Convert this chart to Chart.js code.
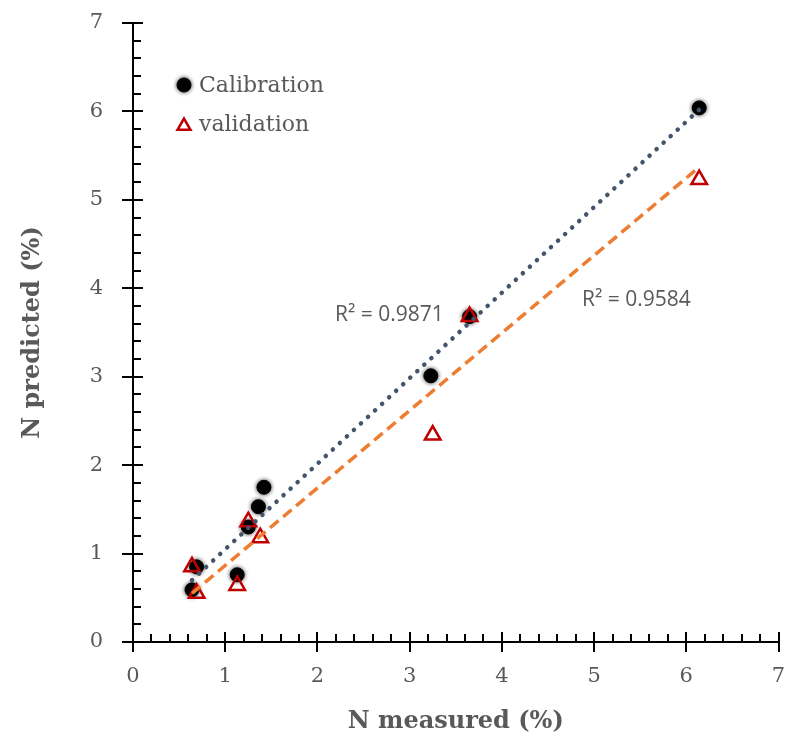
<!DOCTYPE html>
<html>
<head>
<meta charset="utf-8">
<script src="https://cdn.jsdelivr.net/npm/chart.js@4.4.0/dist/chart.umd.min.js"></script>
<style>
  html, body { margin: 0; padding: 0; background: #fff; }
</style>
</head>
<body>
<canvas id="nChart" width="790" height="738"></canvas>
<script>
// N measured vs N predicted (%)
const calibMeasured = [0.64, 0.69, 1.13, 1.25, 1.36, 1.42, 3.23, 3.65, 6.14];
const calibPredicted = [0.59, 0.85, 0.76, 1.30, 1.53, 1.75, 3.01, 3.68, 6.04];

const validMeasured = [0.64, 0.69, 1.13, 1.25, 1.38, 3.25, 3.65, 6.14];
const validPredicted = [0.85, 0.55, 0.64, 1.36, 1.18, 2.34, 3.68, 5.23];

// trend line ends
const calibTrendX = [0.64, 6.14];
const calibTrendY = [0.70, 6.02];
const validTrendX = [0.64, 6.14];
const validTrendY = [0.55, 5.37];

const axisTickValues = [0, 1, 2, 3, 4, 5, 6, 7];
const seriesNames = ["Calibration", "validation"];
const r2Labels = ["R\u00B2 = 0.9871", "R\u00B2 = 0.9584"];
const r2Anchors = [[2.19, 3.70], [4.87, 3.87]];

const GREY = "#595959";
const RED = "#C00000";
const SERIF = "'DejaVu Serif', serif";

function toPoints(xs, ys) {
  return xs.map((x, i) => ({ x: x, y: ys[i] }));
}

// axis lines, crossing major ticks, inward minor ticks and tick labels
const axisTicks = {
  id: "axisTicks",
  afterDraw(chart) {
    const { ctx, chartArea: a, scales } = chart;
    const x = scales.x;
    const y = scales.y;
    ctx.save();
    ctx.strokeStyle = "#000";
    ctx.lineWidth = 2;
    ctx.beginPath();
    ctx.moveTo(a.left, a.top);
    ctx.lineTo(a.left, a.bottom);
    ctx.lineTo(a.right, a.bottom);
    for (let i = 0; i <= 35; i++) {
      const v = i / 5;
      const major = i % 5 === 0;
      const px = Math.round(x.getPixelForValue(v));
      ctx.moveTo(px, a.bottom + (major ? 10 : 0));
      ctx.lineTo(px, a.bottom - (major ? 10 : 8));
      const py = Math.round(y.getPixelForValue(v));
      ctx.moveTo(a.left - (major ? 11 : 0), py);
      ctx.lineTo(a.left + (major ? 10 : 8), py);
    }
    ctx.stroke();

    ctx.fillStyle = GREY;
    ctx.font = "21px " + SERIF;
    ctx.textAlign = "center";
    ctx.textBaseline = "top";
    x.ticks.forEach((t) => ctx.fillText(String(t.value), x.getPixelForValue(t.value), a.bottom + 24));
    ctx.textAlign = "right";
    ctx.textBaseline = "middle";
    y.ticks.forEach((t) => ctx.fillText(String(t.value), a.left - 30, y.getPixelForValue(t.value)));
    ctx.restore();
  },
};

const markerGlow = {
  id: "markerGlow",
  beforeDatasetDraw(chart, args) {
    if (args.index !== 3) return;
    chart.ctx.save();
    chart.ctx.shadowColor = "rgba(0,0,0,0.7)";
    chart.ctx.shadowBlur = 4;
  },
  afterDatasetDraw(chart, args) {
    if (args.index !== 3) return;
    chart.ctx.restore();
  },
};

const notes = {
  id: "notes",
  afterDraw(chart) {
    const { ctx, chartArea: a, scales } = chart;
    ctx.save();
    // legend
    const mx = a.left + 51;
    ctx.fillStyle = "#000";
    ctx.shadowColor = "rgba(0,0,0,0.7)";
    ctx.shadowBlur = 4;
    Chart.helpers.drawPoint(ctx, { pointStyle: "circle", radius: 7, rotation: 0, borderWidth: 1 }, mx, a.top + 62);
    ctx.shadowBlur = 0;
    ctx.strokeStyle = RED;
    ctx.fillStyle = "rgba(0,0,0,0)";
    ctx.lineWidth = 2.5;
    Chart.helpers.drawPoint(ctx, { pointStyle: "triangle", radius: 7.5, rotation: 0, borderWidth: 2.5 }, mx, a.top + 103);
    ctx.fillStyle = GREY;
    ctx.font = "22px " + SERIF;
    ctx.textBaseline = "alphabetic";
    ctx.fillText(seriesNames[0], mx + 15, a.top + 69);
    ctx.fillText(seriesNames[1], mx + 15, a.top + 108);
    // R2 labels
    ctx.font = "21px 'Open Sans', sans-serif";
    ctx.textBaseline = "middle";
    r2Labels.forEach((t, i) => {
      ctx.fillText(t, scales.x.getPixelForValue(r2Anchors[i][0]), scales.y.getPixelForValue(r2Anchors[i][1]));
    });
    ctx.restore();
  },
};

new Chart(document.getElementById("nChart"), {
  type: "scatter",
  data: {
    datasets: [
      {
        type: "line",
        label: "calib trend",
        data: toPoints(calibTrendX, calibTrendY),
        borderColor: "#44546A",
        borderWidth: 4.5,
        borderDash: [0.1, 9.5],
        borderCapStyle: "round",
        pointRadius: 0,
        fill: false,
      },
      {
        type: "line",
        label: "valid trend",
        data: toPoints(validTrendX, validTrendY),
        borderColor: "#ED7D31",
        borderWidth: 3.5,
        borderDash: [11, 6],
        pointRadius: 0,
        fill: false,
      },
      {
        label: seriesNames[1],
        data: toPoints(validMeasured, validPredicted),
        pointStyle: "triangle",
        pointRadius: 9,
        borderColor: RED,
        borderWidth: 2.5,
        backgroundColor: "rgba(0,0,0,0)",
      },
      {
        label: seriesNames[0],
        data: toPoints(calibMeasured, calibPredicted),
        pointStyle: "circle",
        pointRadius: 7,
        borderColor: "#000",
        borderWidth: 1,
        backgroundColor: "#000",
      },
    ],
  },
  options: {
    responsive: false,
    animation: false,
    devicePixelRatio: 1,
    layout: { padding: { left: 0, top: 23, right: 7, bottom: 0 } },
    plugins: {
      legend: { display: false },
      tooltip: { enabled: false },
    },
    scales: {
      x: {
        type: "linear",
        min: 0,
        max: 7,
        afterBuildTicks: (s) => { s.ticks = axisTickValues.map((v) => ({ value: v })); },
        afterFit: (s) => { s.height = 96; s.paddingLeft = 0; s.paddingRight = 0; },
        grid: { display: false, drawTicks: false },
        border: { display: false },
        ticks: { display: false },
        title: {
          display: true,
          text: "N measured (%)",
          color: GREY,
          font: { family: SERIF, size: 24, weight: "bold" },
          padding: { top: 0, bottom: 2 },
        },
      },
      y: {
        type: "linear",
        min: 0,
        max: 7,
        afterBuildTicks: (s) => { s.ticks = axisTickValues.map((v) => ({ value: v })); },
        afterFit: (s) => { s.width = 133; s.paddingTop = 0; s.paddingBottom = 0; },
        grid: { display: false, drawTicks: false },
        border: { display: false },
        ticks: { display: false },
        title: {
          display: true,
          text: "N predicted (%)",
          color: GREY,
          font: { family: SERIF, size: 24, weight: "bold" },
          padding: { top: 18, bottom: 0 },
        },
      },
    },
  },
  plugins: [axisTicks, markerGlow, notes],
});
</script>
</body>
</html>
